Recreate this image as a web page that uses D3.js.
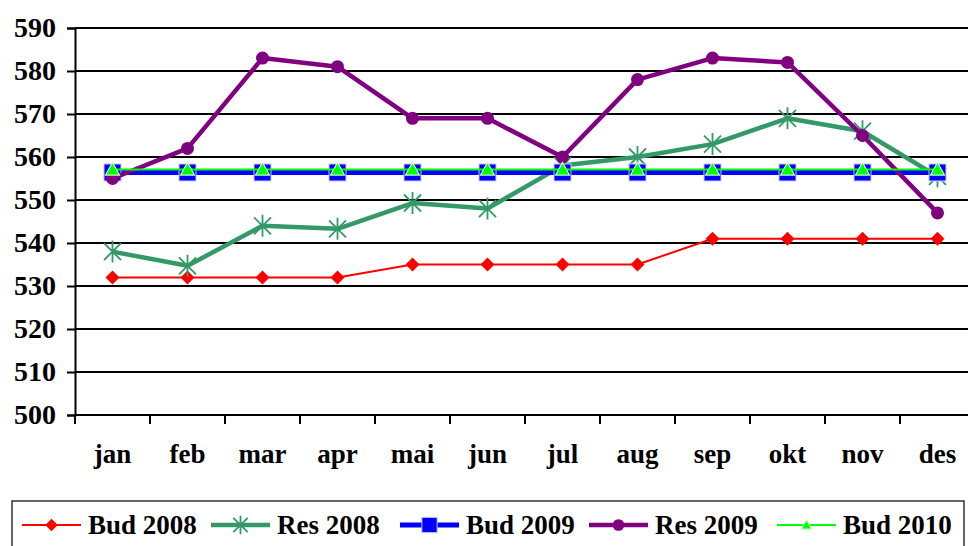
<!DOCTYPE html>
<html>
<head>
<meta charset="utf-8">
<script src="https://cdn.jsdelivr.net/npm/d3@7"></script>
<style>
  body { margin: 0; background: #fff; }
</style>
</head>
<body>
<div id="chart"></div>
<script>
// months
var months = ["jan", "feb", "mar", "apr", "mai", "jun", "jul", "aug", "sep", "okt", "nov", "des"];
var yTicks = [500, 510, 520, 530, 540, 550, 560, 570, 580, 590];

// series values
var bud2008 = [532, 532, 532, 532, 535, 535, 535, 535, 541, 541, 541, 541];
var res2008 = [538, 534.7, 544, 543.3, 549.3, 548, 558, 560, 563, 569, 566, 555.5];
var bud2009 = [556.4, 556.4, 556.4, 556.4, 556.4, 556.4, 556.4, 556.4, 556.4, 556.4, 556.4, 556.4];
var res2009 = [555, 562, 583, 581, 569, 569, 560, 578, 583, 582, 565, 547];
var bud2010 = [557.1, 557.1, 557.1, 557.1, 557.1, 557.1, 557.1, 557.1, 557.1, 557.1, 557.1, 557.1];

var svgWidth = 968, svgHeight = 546;
var fontFam = "'Liberation Serif', 'Times New Roman', serif";

var svg = d3.select("#chart")
    .append("svg")
    .attr("width", svgWidth)
    .attr("height", svgHeight);

var x = d3.scaleBand()
    .domain(months)
    .range([75, 975]);

var y = d3.scaleLinear()
    .domain([500, 590])
    .range([415, 28]);

// gridlines
svg.append("g")
    .selectAll("line")
    .data(yTicks)
    .enter()
    .append("line")
    .attr("x1", 75)
    .attr("x2", 975)
    .attr("y1", d => y(d))
    .attr("y2", d => y(d))
    .attr("stroke", "#000")
    .attr("stroke-width", 2);

// y axis
var leftAxis = d3.axisLeft(y).tickValues(yTicks).tickSize(8).tickPadding(11);
var yAxis = svg.append("g")
    .attr("transform", "translate(75,0)")
    .attr("font-family", fontFam)
    .call(leftAxis);
yAxis.attr("font-family", fontFam);
yAxis.select(".domain").attr("stroke-width", 2);
yAxis.selectAll(".tick line").attr("stroke-width", 2);
yAxis.selectAll("text")
    .style("font-family", fontFam)
    .style("font-weight", "bold")
    .style("font-size", "28px")
    .attr("fill", "#000");

// x axis
var bottomAxis = d3.axisBottom(x).tickSize(0).tickPadding(29);
var xAxis = svg.append("g")
    .attr("transform", "translate(0,415)")
    .call(bottomAxis);
xAxis.attr("font-family", fontFam);
xAxis.select(".domain").remove();
xAxis.selectAll("text")
    .style("font-family", fontFam)
    .style("font-weight", "bold")
    .style("font-size", "27px")
    .attr("fill", "#000");
// tick marks between categories
xAxis.selectAll(".sep")
    .data(months)
    .enter()
    .append("line")
    .attr("class", "sep")
    .attr("x1", d => x(d))
    .attr("x2", d => x(d))
    .attr("y1", 0)
    .attr("y2", 9)
    .attr("stroke", "#000")
    .attr("stroke-width", 2);

var drawLine = d3.line()
    .x((d, i) => x(months[i]) + x.bandwidth() / 2)
    .y(d => y(d));

function cx(i) { return x(months[i]) + x.bandwidth() / 2; }

var series = [
  { name: "Bud 2008", data: bud2008, color: "#ff0000", width: 2, marker: "diamond" },
  { name: "Res 2008", data: res2008, color: "#339966", width: 4.5, marker: "star" },
  { name: "Bud 2009", data: bud2009, color: "#0000ff", width: 5, marker: "square" },
  { name: "Res 2009", data: res2009, color: "#800080", width: 4.5, marker: "circle" },
  { name: "Bud 2010", data: bud2010, color: "#00ff00", width: 2, marker: "triangle" }
];

function drawMarker(g, type, color, px, py, scale) {
  scale = scale || 1;
  if (type === "diamond") {
    var s = 7 * scale;
    g.append("path")
      .attr("d", `M${px},${py - s}L${px + s},${py}L${px},${py + s}L${px - s},${py}Z`)
      .attr("fill", color);
  } else if (type === "star") {
    var r = 11 * scale;
    var p = `M${px},${py - r}L${px},${py + r}`;
    var d = 8.5 * scale;
    p += `M${px - d},${py - d}L${px + d},${py + d}M${px - d},${py + d}L${px + d},${py - d}`;
    g.append("path")
      .attr("d", p)
      .attr("stroke", color)
      .attr("stroke-width", 1.8)
      .attr("fill", "none");
  } else if (type === "square") {
    var h = 8.5 * scale;
    g.append("rect")
      .attr("x", px - h).attr("y", py - h)
      .attr("width", 2 * h).attr("height", 2 * h)
      .attr("fill", color)
      .attr("stroke", "#c8c8ff")
      .attr("stroke-width", 1);
  } else if (type === "circle") {
    g.append("circle")
      .attr("cx", px).attr("cy", py)
      .attr("r", 6.5 * scale)
      .attr("fill", color);
  } else if (type === "triangle") {
    var t = 7 * scale;
    g.append("path")
      .attr("d", `M${px},${py - t}L${px + t},${py + t * 0.8}L${px - t},${py + t * 0.8}Z`)
      .attr("fill", color)
      .attr("stroke", "#c8ffc8")
      .attr("stroke-width", 1.2);
  }
}

series.forEach(function(s) {
  svg.append("path")
    .datum(s.data)
    .attr("d", drawLine)
    .attr("stroke", s.color)
    .attr("stroke-width", s.width)
    .attr("fill", "none")
    .attr("stroke-linejoin", "round");
  var mg = svg.append("g");
  s.data.forEach(function(v, i) {
    drawMarker(mg, s.marker, s.color, cx(i), y(v));
  });
});

// legend
svg.append("rect")
  .attr("x", 12).attr("y", 501)
  .attr("width", 952).attr("height", 60)
  .attr("fill", "#fff")
  .attr("stroke", "#333")
  .attr("stroke-width", 1.5);

var legendX = [22, 211, 400, 589, 777];
var ly = 525;
series.forEach(function(s, i) {
  var lx = legendX[i];
  var lg = svg.append("g");
  lg.append("line")
    .attr("x1", lx).attr("x2", lx + 59)
    .attr("y1", ly).attr("y2", ly)
    .attr("stroke", s.color)
    .attr("stroke-width", s.width);
  var sc = s.marker === "triangle" ? 0.75 : (s.marker === "star" ? 0.85 : 0.9);
  drawMarker(lg, s.marker, s.color, lx + 29.5, ly, sc);
  lg.append("text")
    .attr("x", lx + 66)
    .attr("y", ly + 9)
    .style("font-family", fontFam)
    .style("font-weight", "bold")
    .style("font-size", "27px")
    .attr("fill", "#000")
    .text(s.name);
});
</script>
</body>
</html>
